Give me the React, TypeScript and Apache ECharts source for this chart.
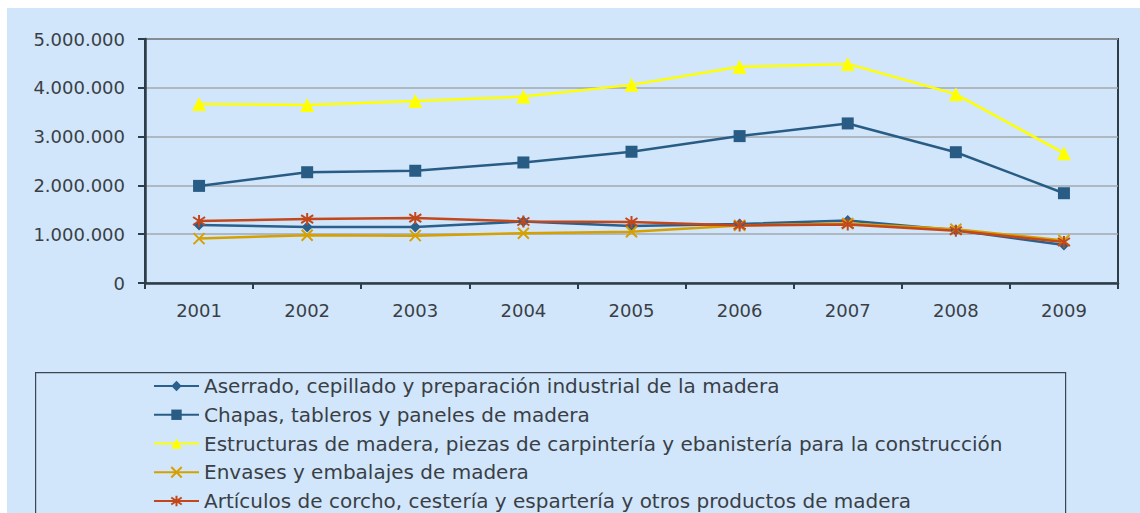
import React, { useEffect, useRef } from "react";
import * as echarts from "echarts";

const years = ["2001", "2002", "2003", "2004", "2005", "2006", "2007", "2008", "2009"];
const yTicks = [0, 1000000, 2000000, 3000000, 4000000, 5000000];

const seriesNames = [
  "Aserrado, cepillado y preparación industrial de la madera",
  "Chapas, tableros y paneles de madera",
  "Estructuras de madera, piezas de carpintería y ebanistería para la construcción",
  "Envases y embalajes de madera",
  "Artículos de corcho, cestería y espartería y otros productos de madera",
];

const aserrado = [1190000, 1150000, 1150000, 1260000, 1170000, 1210000, 1280000, 1080000, 780000];
const chapas = [1990000, 2270000, 2300000, 2470000, 2690000, 3010000, 3270000, 2680000, 1840000];
const estructuras = [3670000, 3650000, 3730000, 3820000, 4060000, 4430000, 4490000, 3870000, 2660000];
const envases = [910000, 980000, 970000, 1020000, 1050000, 1180000, 1220000, 1100000, 870000];
const articulos = [1270000, 1310000, 1330000, 1260000, 1250000, 1180000, 1200000, 1070000, 840000];

const colors = ["#2b5f8c", "#285c84", "#ffff00", "#d6a000", "#c2471a"];

const crossPath = "path://M0,0L10,10M10,0L0,10";
const starPath = "path://M0,1L10,9M10,1L0,9M5,-1L5,11";

const fmt = (v: number) => {
  if (v === 0) return "0";
  return String(Math.round(v)).replace(/\B(?=(\d{3})+(?!\d))/g, ".");
};

export default function App() {
  const ref = useRef<HTMLDivElement>(null);
  useEffect(() => {
    if (!ref.current) return;
    const chart = echarts.init(ref.current, undefined, { renderer: "svg" });
    const font = "DejaVu Sans";
    const dataSets = [aserrado, chapas, estructuras, envases, articulos];
    const symbols = ["diamond", "rect", "triangle", crossPath, starPath];
    const sizes = [11, 12, 14, 11, 12];
    chart.setOption({
      animation: false,
      backgroundColor: "#d1e6fb",
      textStyle: { fontFamily: font },
      grid: {
        left: 138,
        top: 31,
        right: 22,
        bottom: 230,
        show: true,
        borderColor: "#2d3d4a",
        borderWidth: 2,
        backgroundColor: "transparent",
      },
      xAxis: {
        type: "category",
        data: years,
        boundaryGap: true,
        axisLine: { lineStyle: { color: "#2d3d4a", width: 2.5 } },
        axisTick: { show: true, length: 6, lineStyle: { color: "#2d3d4a", width: 2 } },
        axisLabel: { color: "#3a3f46", fontSize: 18, fontFamily: font, margin: 18 },
        splitLine: { show: false },
      },
      yAxis: {
        type: "value",
        min: 0,
        max: 5000000,
        interval: 1000000,
        axisLine: { show: true, lineStyle: { color: "#2d3d4a", width: 2.5 } },
        axisTick: { show: true, length: 7, lineStyle: { color: "#2d3d4a", width: 2 } },
        axisLabel: { color: "#3a3f46", fontSize: 18, fontFamily: font, margin: 20, formatter: (v: number) => fmt(v) },
        splitLine: { show: true, lineStyle: { color: "#a3a8ad", width: 1.5 } },
      },
      legend: {
        orient: "vertical",
        left: 146,
        top: 368,
        height: 200,
        padding: 0,
        itemWidth: 45,
        itemHeight: 13,
        itemGap: 8.75,
        textStyle: { color: "#3a3f46", fontSize: 20, fontFamily: font },
        data: seriesNames,
      },
      graphic: [
        {
          type: "rect",
          left: 28,
          top: 364,
          shape: { width: 1030, height: 160 },
          style: { fill: "transparent", stroke: "#3c4650", lineWidth: 1.2 },
          z: -1,
        },
      ],
      series: seriesNames.map((name, i) => ({
        name,
        type: "line",
        data: dataSets[i],
        symbol: symbols[i],
        symbolSize: sizes[i],
        showAllSymbol: true,
        lineStyle: { color: colors[i], width: 2.5 },
        itemStyle: {
          color: colors[i],
          borderColor: colors[i],
          borderWidth: i >= 3 ? 2 : 0,
        },
        z: i === 2 ? 3 : 2,
      })),
    });
    return () => chart.dispose();
  }, []);
  return (
    <div
      ref={ref}
      style={{ position: "absolute", left: 7, top: 8, width: 1133, height: 505 }}
    />
  );
}
